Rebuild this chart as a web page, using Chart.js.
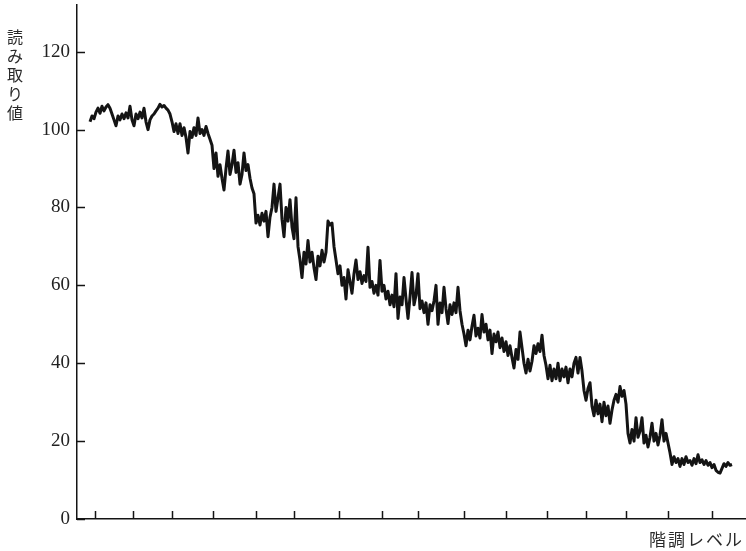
<!DOCTYPE html>
<html>
<head>
<meta charset="utf-8">
<script src="https://cdn.jsdelivr.net/npm/chart.js@4"></script>
<style>
  body { margin: 0; background: #fff; }
  canvas { display: block; }
</style>
</head>
<body>
<canvas id="myChart" width="746" height="551"></canvas>
<script>
// axis texts
const yTitle = ["読", "み", "取", "り", "値"];
const xTitle = "階調レベル";

// y tick labels, x tick marks (no labels in the original)
const yTicks = [0, 20, 40, 60, 80, 100, 120];
const xTicks = [2.5, 21.5, 41, 61.5, 83, 102, 124.5, 146, 164, 187, 208, 228.5, 248, 268, 289, 311];

// readings along the grey levels
const readings = [
  102, 103.5, 102.8, 104.5, 105.5, 104.2, 106, 104.8, 105.8, 106.4,
  105.5, 104, 102.5, 101, 103.5, 102.5, 104, 102.8, 104.3, 103,
  106, 102.5, 101, 104, 102.8, 104.5, 103, 105.5, 102, 100,
  102.5, 103.5, 104, 104.8, 105.5, 106.5, 105.8, 106.2, 105.5, 105,
  104, 102, 99.5, 101.5, 99, 101.5, 98.5, 100.5, 98, 94,
  99.5, 98, 100.5, 98.5, 103, 99, 100, 98.5, 100.8, 99,
  97.5, 96, 90, 94, 88, 91, 87.5, 84.5, 90, 94.5,
  88.5, 91, 94.7, 89, 91.5, 86, 88.5, 94, 89.5, 91,
  87.5, 85, 83.5, 76, 78, 75.5, 78.5, 76.5, 79, 72.5,
  77.5, 80, 86, 79, 82.5, 86, 77, 72.5, 80, 76.5,
  82, 75, 72, 82.5, 70, 66.5, 62, 68.5, 65.5, 71.5,
  66, 68.5, 64.5, 61.5, 67.5, 65, 69, 66, 68.5, 76.5,
  75.5, 76, 70, 66.5, 63, 65, 60, 62, 56.5, 64,
  61, 58, 63, 66.5, 61.5, 63.5, 60.5, 62.5, 61, 69.8,
  59.5, 61, 58, 60, 57.5, 66.4, 58.5, 60, 56.5, 58.5,
  55, 57.5, 54.5, 63, 51.5, 57, 55, 62, 56.5, 51.5,
  57, 63.3, 55, 57.5, 63, 54, 56, 53, 55.5, 50,
  55, 53.5, 56, 60, 50, 55.5, 53, 59.5, 54, 50.2,
  55, 52.5, 55.5, 53, 59.5, 53.5, 50, 47.5, 44.5, 48.5,
  46, 49.5, 52.3, 47, 49, 46.5, 52.5, 48, 50, 46,
  48.5, 42.5, 47.5, 45.5, 48, 44, 46.5, 43, 45.5, 42,
  44.5, 41.5, 38.8, 43.5, 41, 48, 44, 40, 37.5, 41,
  38, 40.5, 44.5, 42.5, 45, 43, 47.2, 42, 39.5, 36,
  39.5, 35.5, 38.5, 36, 40, 35.5, 38.5, 36.5, 39, 35,
  38.5, 36.5, 40, 41.5, 37.5, 41.5, 38, 33, 30.5, 33.5,
  35, 29, 26.5, 30.5, 27, 29.5, 25, 30, 26.5, 29,
  24.6, 28, 30.5, 32, 30, 34, 31.5, 33, 29.5, 22,
  19.5, 23, 20, 26, 21, 22.5, 26, 19.5, 21.5, 18.5,
  21, 24.6, 20, 22, 19, 21.5, 25.5, 20, 22, 19.5,
  17, 14, 16, 14.5, 15.5, 13.5, 15.5, 14, 16, 14.5,
  15, 13.8, 15.5, 14.2, 16.5, 14.5, 15.2, 14, 15, 13.8,
  14.5, 13.2, 14, 12.5, 12, 11.8, 13, 14.2, 13.5, 14.5,
  13.8, 14
];

const ink = "#141414";

// inward tick marks + the stacked / plain axis titles
const axisDecor = {
  id: "axisDecor",
  afterDraw(chart) {
    const { ctx, chartArea, scales } = chart;
    ctx.save();
    ctx.strokeStyle = ink;
    ctx.lineWidth = 1.5;
    ctx.beginPath();
    scales.y.ticks.forEach((t) => {
      const y = Math.round(scales.y.getPixelForValue(t.value)) + 0.5;
      ctx.moveTo(chartArea.left, y);
      ctx.lineTo(chartArea.left + 8, y);
    });
    scales.x.ticks.forEach((t) => {
      const x = Math.round(scales.x.getPixelForValue(t.value)) + 0.5;
      ctx.moveTo(x, chartArea.bottom);
      ctx.lineTo(x, chartArea.bottom - 8);
    });
    ctx.stroke();

    ctx.fillStyle = "#2a2a2a";
    ctx.font = "16px 'Noto Sans CJK JP'";
    ctx.textAlign = "center";
    ctx.textBaseline = "middle";
    yTitle.forEach((ch, i) => ctx.fillText(ch, 15, 37 + i * 19));

    ctx.font = "17px 'Noto Sans CJK JP'";
    ctx.letterSpacing = "2px";
    ctx.textAlign = "right";
    ctx.fillText(xTitle, 744, 540);
    ctx.restore();
  },
};

const ctx = document.querySelector("#myChart").getContext("2d");

const config = {
  type: "line",
  data: {
    datasets: [
      {
        data: readings.map((v, i) => ({ x: i, y: v })),
        borderColor: ink,
        borderWidth: 3,
        borderJoinStyle: "round",
        pointRadius: 0,
        tension: 0,
        fill: false,
      },
    ],
  },
  options: {
    responsive: false,
    animation: false,
    devicePixelRatio: 1,
    layout: { padding: { top: 5, right: 0, left: 0, bottom: 0 } },
    scales: {
      x: {
        type: "linear",
        min: -6.5,
        max: 328,
        grid: { display: false, drawTicks: false },
        border: { display: true, color: ink, width: 1.5 },
        ticks: { display: false },
        afterBuildTicks: (scale) => {
          scale.ticks = xTicks.map((v) => ({ value: v }));
        },
        afterFit: (scale) => {
          scale.height = 32;
          scale.paddingLeft = 0;
          scale.paddingRight = 0;
        },
      },
      y: {
        min: 0,
        max: 132,
        grid: { display: false, drawTicks: false },
        border: { display: true, color: ink, width: 1.5 },
        ticks: {
          padding: 7,
          color: "#222",
          font: { family: "'Liberation Serif', serif", size: 19 },
        },
        afterBuildTicks: (scale) => {
          scale.ticks = yTicks.map((v) => ({ value: v }));
        },
        afterFit: (scale) => {
          scale.width = 77;
          scale.paddingTop = 0;
          scale.paddingBottom = 0;
        },
      },
    },
    plugins: {
      legend: { display: false },
      tooltip: { enabled: false },
    },
  },
  plugins: [axisDecor],
};

const myChart = new Chart(ctx, config);
</script>
</body>
</html>
